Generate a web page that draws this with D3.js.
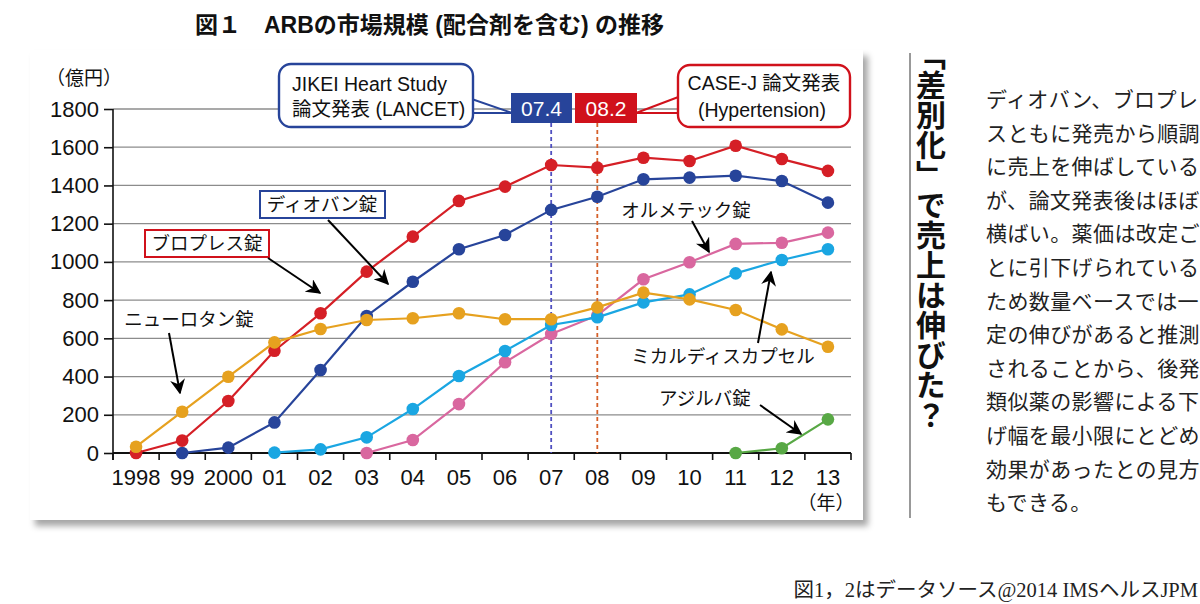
<!DOCTYPE html>
<html>
<head>
<meta charset="utf-8">
<script src="https://cdn.jsdelivr.net/npm/d3@7/dist/d3.min.js"></script>
<style>
body { margin: 0; background: #fff; }
svg { display: block; }
</style>
</head>
<body>
<svg id="chart" width="1200" height="604"></svg>
<script>
// ---- data (億円) ----
var years = ["1998","99","2000","01","02","03","04","05","06","07","08","09","10","11","12","13"];
var yTicks = [0,200,400,600,800,1000,1200,1400,1600,1800];

var olmetec  = [null,null,null,null,null,0,68,256,475,623,720,909,998,1094,1100,1153];
var micardis = [null,null,null,2,19,82,230,403,534,670,710,788,830,940,1010,1066];
var diovan   = [null,0,28,160,434,717,896,1066,1141,1272,1341,1432,1441,1451,1423,1310];
var blopress = [0,65,272,535,731,949,1132,1319,1394,1507,1493,1545,1528,1608,1538,1476];
var nu       = [33,216,399,579,649,696,705,731,700,700,762,839,804,748,647,556];
var azilva   = [null,null,null,null,null,null,null,null,null,null,null,null,null,0,25,176];

var seriesNames  = ["olmetec","micardis","diovan","blopress","nu","azilva"];
var seriesValues = [olmetec, micardis, diovan, blopress, nu, azilva];
var seriesColors = ["#d9679f","#1aa6e2","#27449a","#d51f26","#e6a11f","#58a845"];

var bodyLines = [
	"ディオバン、ブロプレ",
	"スともに発売から順調",
	"に売上を伸ばしている",
	"が、論文発表後はほぼ",
	"横ばい。薬価は改定ご",
	"とに引下げられている",
	"ため数量ベースでは一",
	"定の伸びがあると推測",
	"されることから、後発",
	"類似薬の影響による下",
	"げ幅を最小限にとどめ",
	"効果があったとの見方",
	"もできる。"
];

var FONT = "'Liberation Sans', 'Noto Sans CJK JP', sans-serif";
var JP = "'Noto Sans CJK JP', sans-serif";

var svg = d3.select("#chart");

var defs = svg.append("defs");
var shadow = defs.append("filter").attr("id", "shadow")
	.attr("x", "-5%").attr("y", "-5%").attr("width", "112%").attr("height", "115%");
shadow.append("feDropShadow")
	.attr("dx", 5).attr("dy", 6).attr("stdDeviation", 3)
	.attr("flood-color", "#000").attr("flood-opacity", 0.35);

defs.append("marker")
	.attr("id", "arrow")
	.attr("viewBox", "0 0 10 10")
	.attr("refX", 9).attr("refY", 5)
	.attr("markerWidth", 15).attr("markerHeight", 15)
	.attr("markerUnits", "userSpaceOnUse")
	.attr("orient", "auto")
	.append("path")
	.attr("d", "M0,0 L10,5 L0,10 L3,5 z")
	.attr("fill", "#000");

// ---- title ----
svg.append("text")
	.attr("x", 195).attr("y", 33)
	.attr("font-family", FONT)
	.attr("font-weight", "bold")
	.attr("font-size", 23)
	.attr("fill", "#111")
	.text("図１　ARBの市場規模 (配合剤を含む) の推移");

// ---- panel ----
svg.append("rect")
	.attr("x", 30).attr("y", 50)
	.attr("width", 833).attr("height", 470)
	.attr("fill", "#fff")
	.attr("filter", "url(#shadow)");

// ---- scales ----
var x = d3.scaleBand().domain(years).range([113, 851]).padding(0);
var y = d3.scaleLinear().domain([0, 1800]).range([453, 109]);
var cx = function(i){ return x(years[i]) + x.bandwidth() / 2; };

var g = svg.append("g");

// grid
g.selectAll("line.grid")
	.data(yTicks.filter(d => d > 0))
	.enter().append("line")
	.attr("class", "grid")
	.attr("x1", 113).attr("x2", 851)
	.attr("y1", d => y(d)).attr("y2", d => y(d))
	.attr("stroke", "#8c8c8c")
	.attr("stroke-width", 1.3);

// y axis
var yAxis = g.append("g")
	.attr("transform", "translate(113,0)")
	.call(d3.axisLeft(y).tickValues(yTicks).tickFormat(d3.format("d")).tickSize(9).tickPadding(5));
yAxis.select(".domain").attr("stroke", "#111").attr("stroke-width", 1.6)
	.attr("d", "M0," + y(1800) + "V" + (y(0) + 7));
yAxis.selectAll(".tick line").attr("stroke", "#111").attr("stroke-width", 1.6);
yAxis.selectAll(".tick text")
	.attr("font-family", FONT).attr("font-size", 22).attr("fill", "#111");

// x axis: labels at centre, ticks at band borders
var xAxis = g.append("g")
	.attr("transform", "translate(0," + y(0) + ")")
	.call(d3.axisBottom(x).tickSize(0).tickPadding(16));
xAxis.select(".domain").remove();
xAxis.selectAll(".tick text")
	.attr("font-family", FONT).attr("font-size", 22).attr("fill", "#111");

var borders = years.map(d => x(d)).concat([x(years[years.length - 1]) + x.bandwidth()]);
g.selectAll("line.xt")
	.data(borders)
	.enter().append("line")
	.attr("x1", d => d).attr("x2", d => d)
	.attr("y1", y(0)).attr("y2", y(0) + 7)
	.attr("stroke", "#111").attr("stroke-width", 1.6);

g.append("line")
	.attr("x1", 113).attr("x2", 851)
	.attr("y1", y(0)).attr("y2", y(0))
	.attr("stroke", "#111").attr("stroke-width", 2.2);

// units
svg.append("text")
	.attr("x", 46).attr("y", 85)
	.attr("font-family", JP).attr("font-size", 19).attr("fill", "#111")
	.text("（億円）");
svg.append("text")
	.attr("x", cx(15) - 2).attr("y", 510)
	.attr("text-anchor", "middle")
	.attr("font-family", JP).attr("font-size", 19).attr("fill", "#111")
	.text("（年）");

// ---- event markers ----
var boxTop = 93, boxH = 30;
g.append("line")
	.attr("x1", cx(9)).attr("x2", cx(9))
	.attr("y1", boxTop + boxH).attr("y2", y(0))
	.attr("stroke", "#5050c0").attr("stroke-width", 1.8)
	.attr("stroke-dasharray", "4,3");
g.append("line")
	.attr("x1", cx(10)).attr("x2", cx(10))
	.attr("y1", boxTop + boxH).attr("y2", y(0))
	.attr("stroke", "#d5602a").attr("stroke-width", 1.8)
	.attr("stroke-dasharray", "4,3");

// ---- series ----
var line = d3.line()
	.defined(d => d != null)
	.x((d, i) => cx(i))
	.y(d => y(d));

seriesValues.forEach(function(vals, k){
	var sg = g.append("g").attr("class", seriesNames[k]);
	sg.append("path")
		.attr("d", line(vals))
		.attr("fill", "none")
		.attr("stroke", seriesColors[k])
		.attr("stroke-width", 2.2);
	sg.selectAll("circle")
		.data(vals.map((v, i) => ({v: v, i: i})).filter(d => d.v != null))
		.enter().append("circle")
		.attr("cx", d => cx(d.i))
		.attr("cy", d => y(d.v))
		.attr("r", 6.3)
		.attr("fill", seriesColors[k]);
});

// ---- callouts ----
var BLUE = "#27449a", RED = "#d0111b";

// tails
g.append("path")
	.attr("d", "M463,96 L512,113 M463,113 L512,113")
	.attr("stroke", BLUE).attr("stroke-width", 2).attr("fill", "none");
g.append("path")
	.attr("d", "M636,113 L681,96 M636,113 L681,113")
	.attr("stroke", RED).attr("stroke-width", 2).attr("fill", "none");

g.append("rect")
	.attr("x", 279).attr("y", 64).attr("width", 194).attr("height", 63).attr("rx", 12)
	.attr("fill", "#fff").attr("stroke", BLUE).attr("stroke-width", 2.4);
g.append("text")
	.attr("x", 292).attr("y", 91)
	.attr("font-family", FONT).attr("font-size", 19.5).attr("fill", "#111")
	.text("JIKEI Heart Study");
g.append("text")
	.attr("x", 292).attr("y", 116)
	.attr("font-family", FONT).attr("font-size", 19.5).attr("fill", "#111")
	.text("論文発表 (LANCET)");

g.append("rect")
	.attr("x", 678).attr("y", 65).attr("width", 172).attr("height", 62).attr("rx", 12)
	.attr("fill", "#fff").attr("stroke", RED).attr("stroke-width", 2.4);
g.append("text")
	.attr("x", 764).attr("y", 90).attr("text-anchor", "middle")
	.attr("font-family", FONT).attr("font-size", 19.5).attr("fill", "#111")
	.text("CASE-J 論文発表");
g.append("text")
	.attr("x", 762).attr("y", 117).attr("text-anchor", "middle")
	.attr("font-family", FONT).attr("font-size", 19.5).attr("fill", "#111")
	.text("(Hypertension)");

g.append("rect")
	.attr("x", 511).attr("y", boxTop).attr("width", 61).attr("height", boxH)
	.attr("fill", BLUE);
g.append("rect")
	.attr("x", 575).attr("y", boxTop).attr("width", 62).attr("height", boxH)
	.attr("fill", RED);
g.append("text")
	.attr("x", 541.5).attr("y", boxTop + 23).attr("text-anchor", "middle")
	.attr("font-family", FONT).attr("font-size", 21).attr("fill", "#fff")
	.text("07.4");
g.append("text")
	.attr("x", 606).attr("y", boxTop + 23).attr("text-anchor", "middle")
	.attr("font-family", FONT).attr("font-size", 21).attr("fill", "#fff")
	.text("08.2");

// ---- labels & arrows ----
g.append("rect")
	.attr("x", 260).attr("y", 191).attr("width", 125).attr("height", 27)
	.attr("fill", "#fff").attr("stroke", BLUE).attr("stroke-width", 2);
g.append("rect")
	.attr("x", 145).attr("y", 230).attr("width", 124).attr("height", 27)
	.attr("fill", "#fff").attr("stroke", RED).attr("stroke-width", 2);

var labels = [
	{t: "ディオバン錠", x: 322, y: 211},
	{t: "ブロプレス錠", x: 207, y: 250},
	{t: "ニューロタン錠", x: 189, y: 326},
	{t: "オルメテック錠", x: 686, y: 217},
	{t: "ミカルディスカプセル", x: 723, y: 363},
	{t: "アジルバ錠", x: 705, y: 405}
];
g.selectAll("text.lbl")
	.data(labels)
	.enter().append("text")
	.attr("class", "lbl")
	.attr("x", d => d.x).attr("y", d => d.y)
	.attr("text-anchor", "middle")
	.attr("font-family", JP).attr("font-size", 18.5).attr("fill", "#111")
	.text(d => d.t);

var arrows = [
	[328, 220, 388, 284],
	[268, 258, 320, 293],
	[169, 333, 180, 393],
	[692, 221, 709, 252],
	[758, 343, 771, 272],
	[760, 405, 801, 434]
];
g.selectAll("line.arr")
	.data(arrows)
	.enter().append("line")
	.attr("class", "arr")
	.attr("x1", d => d[0]).attr("y1", d => d[1])
	.attr("x2", d => d[2]).attr("y2", d => d[3])
	.attr("stroke", "#000").attr("stroke-width", 2)
	.attr("marker-end", "url(#arrow)");

// ---- right column ----
svg.append("line")
	.attr("x1", 910).attr("x2", 910)
	.attr("y1", 53).attr("y2", 518)
	.attr("stroke", "#555").attr("stroke-width", 1.2);

svg.append("text")
	.attr("x", 931).attr("y", 40)
	.attr("font-family", JP).attr("font-weight", "bold")
	.attr("font-size", 30).attr("fill", "#111")
	.style("writing-mode", "vertical-rl")
	.text("「差別化」で売上は伸びた？");

svg.selectAll("text.body")
	.data(bodyLines)
	.enter().append("text")
	.attr("class", "body")
	.attr("x", 986)
	.attr("y", (d, i) => 107 + i * 33.6)
	.attr("font-family", JP).attr("font-size", 21)
	.attr("letter-spacing", 0.4)
	.attr("fill", "#222")
	.text(d => d);

// ---- source ----
svg.append("text")
	.attr("x", 1198).attr("y", 597)
	.attr("text-anchor", "end")
	.attr("font-family", "'Liberation Serif', 'Noto Sans CJK JP', serif")
	.attr("font-size", 20.5).attr("fill", "#222")
	.text("図1，2はデータソース@2014 IMSヘルスJPM");
</script>
</body>
</html>
